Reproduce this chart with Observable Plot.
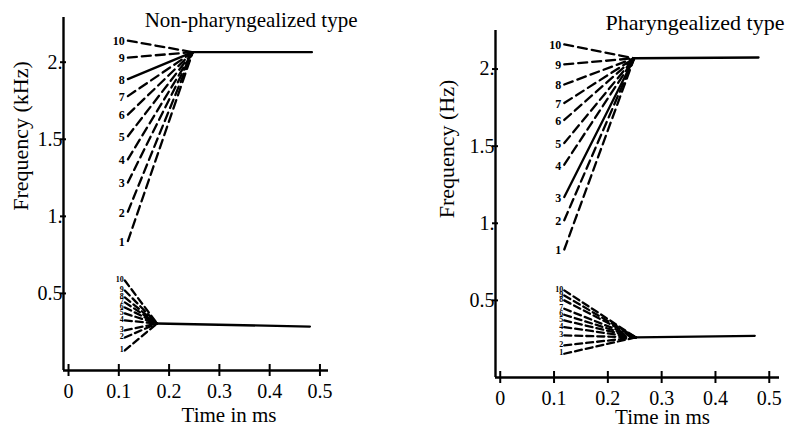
<!DOCTYPE html>
<html>
<head>
<meta charset="utf-8">
<script src="https://cdn.jsdelivr.net/npm/d3@7"></script>
<script src="https://cdn.jsdelivr.net/npm/@observablehq/plot@0.6"></script>
<style>
  body { margin: 0; background: white; }
  #wrap { display: flex; width: 788px; height: 430px; }
</style>
</head>
<body>
<div id="wrap"></div>
<script>
// ---------- data ----------
const seriesLabels = ["1","2","3","4","5","6","7","8","9","10"];
const xTicks = [0, 0.1, 0.2, 0.3, 0.4, 0.5];
const xTickLabels = ["0", "0.1", "0.2", "0.3", "0.4", "0.5"];
const yTicks = [0.5, 1, 1.5, 2];
const yTickLabels = ["0.5", "1.", "1.5", "2."];

// Non-pharyngealized type (left panel)
const npTitle = "Non-pharyngealized type";
const npYLabel = "Frequency (kHz)";
const npF2Start = [0.84, 1.03, 1.22, 1.37, 1.52, 1.66, 1.78, 1.89, 2.03, 2.14];
const npF2T = [0.118, 0.247, 0.484];   // onset, target reached, end
const npF2Target = [2.065, 2.065];
const npF2Solid = ["8"];
const npF1Start = [0.13, 0.214, 0.26, 0.325, 0.37, 0.409, 0.442, 0.474, 0.519, 0.584];
const npF1T = [0.112, 0.176, 0.48];
const npF1Target = [0.305, 0.285];
const npF1Solid = [];

// Pharyngealized type (right panel)
const pTitle = "Pharyngealized type";
const pYLabel = "Frequency (Hz)";
const pF2Start = [0.83, 1.02, 1.17, 1.38, 1.52, 1.67, 1.78, 1.90, 2.03, 2.16];
const pF2T = [0.119, 0.249, 0.48];
const pF2Target = [2.07, 2.075];
const pF2Solid = ["3"];
const pF1Start = [0.154, 0.208, 0.273, 0.327, 0.37, 0.407, 0.446, 0.50, 0.532, 0.565];
const pF1T = [0.119, 0.252, 0.473];
const pF1Target = [0.26, 0.27];
const pF1Solid = [];

// ---------- helpers ----------
function formantRows(name, starts, T, target) {
  const rows = [];
  starts.forEach((f, i) => {
    rows.push({id: name + seriesLabels[i], label: seriesLabels[i], t: T[0], f});
    rows.push({id: name + seriesLabels[i], label: seriesLabels[i], t: T[1], f: target[0]});
  });
  return rows;
}
function steadyRows(name, T, target) {
  return [{id: name, t: T[1], f: target[0]}, {id: name, t: T[2], f: target[1]}];
}
function startRows(starts, T) {
  return starts.map((f, i) => ({label: seriesLabels[i], t: T[0], f}));
}

function panel(cfg) {
  const F2 = formantRows("F2-", cfg.f2Start, cfg.f2T, cfg.f2Target);
  const F1 = formantRows("F1-", cfg.f1Start, cfg.f1T, cfg.f1Target);
  const dashedF2 = F2.filter(d => !cfg.f2Solid.includes(d.label));
  const solidF2 = F2.filter(d => cfg.f2Solid.includes(d.label));
  const dashedF1 = F1.filter(d => !cfg.f1Solid.includes(d.label));
  const solidF1 = F1.filter(d => cfg.f1Solid.includes(d.label));
  const steady = [...steadyRows("F2", cfg.f2T, cfg.f2Target), ...steadyRows("F1", cfg.f1T, cfg.f1Target)];
  const font = "Liberation Serif, Times New Roman, serif";
  return Plot.plot({
    width: 394, height: 430,
    marginLeft: cfg.ml, marginRight: cfg.mr, marginTop: cfg.mt, marginBottom: cfg.mb,
    x: {domain: cfg.xDomain, axis: null},
    y: {domain: cfg.yDomain, axis: null},
    style: {fontFamily: font, background: "white", color: "black", overflow: "visible"},
    marks: [
      Plot.ruleY([0], {stroke: "black", strokeWidth: 2.4}),
      Plot.ruleX([cfg.xDomain[0]], {stroke: "black", strokeWidth: 2.4}),
      Plot.axisX({ticks: xTicks, tickSize: 12, dy: -6, tickFormat: () => "", label: null, strokeWidth: 2}),
      Plot.axisX({ticks: xTicks, tickSize: 0, tickPadding: 13, fontSize: 20, label: null,
        tickFormat: d => xTickLabels[xTicks.indexOf(d)]}),
      Plot.axisY({ticks: yTicks, tickSize: 6, dx: 3, tickFormat: () => "", label: null, strokeWidth: 2}),
      Plot.axisY({ticks: yTicks, tickSize: 0, tickPadding: 1, fontSize: 20, label: null,
        tickFormat: d => yTickLabels[yTicks.indexOf(d)]}),
      Plot.line(dashedF2, {x: "t", y: "f", z: "id", stroke: "black", strokeWidth: 2.3, strokeDasharray: "9,5"}),
      Plot.line(solidF2, {x: "t", y: "f", z: "id", stroke: "black", strokeWidth: 2.3}),
      Plot.line(dashedF1, {x: "t", y: "f", z: "id", stroke: "black", strokeWidth: 2.3, strokeDasharray: "7,4"}),
      Plot.line(solidF1, {x: "t", y: "f", z: "id", stroke: "black", strokeWidth: 2.3}),
      Plot.line(steady, {x: "t", y: "f", z: "id", stroke: "black", strokeWidth: 2.3}),
      Plot.text(startRows(cfg.f2Start, cfg.f2T), {x: "t", y: "f", text: "label", textAnchor: "end",
        dx: -3, dy: 1, fontSize: 12, fontWeight: "bold"}),
      Plot.text(startRows(cfg.f1Start, cfg.f1T), {x: "t", y: "f", text: "label", textAnchor: "end",
        dx: -1, dy: -1, fontSize: cfg.f1LabelSize, fontWeight: "bold"}),
      Plot.text([cfg.title], {frameAnchor: "top-right", textAnchor: "end", lineAnchor: "middle",
        dx: cfg.titleDx, dy: cfg.titleDy, fontSize: cfg.titleSize}),
      Plot.text([cfg.yLabel], {frameAnchor: "left", rotate: -90, textAnchor: "middle", lineAnchor: "middle",
        dx: cfg.yLabDx, dy: cfg.yLabDy, fontSize: 22}),
      Plot.text(["Time in ms"], {frameAnchor: "bottom", textAnchor: "middle", lineAnchor: "middle",
        dx: cfg.xLabDx, dy: cfg.xLabDy, fontSize: 21})
    ]
  });
}

const wrap = document.getElementById("wrap");
wrap.append(panel({
  title: npTitle, yLabel: npYLabel,
  f2Start: npF2Start, f2T: npF2T, f2Target: npF2Target, f2Solid: npF2Solid,
  f1Start: npF1Start, f1T: npF1T, f1Target: npF1Target, f1Solid: npF1Solid,
  ml: 63, mr: 66, mt: 17, mb: 60,
  xDomain: [-0.01, 0.517], yDomain: [0, 2.29],
  f1LabelSize: 8, titleSize: 21, titleDx: 29, titleDy: 3,
  yLabDx: -43, yLabDy: -58, xLabDx: 33, xLabDy: 45
}));
wrap.append(panel({
  title: pTitle, yLabel: pYLabel,
  f2Start: pF2Start, f2T: pF2T, f2Target: pF2Target, f2Solid: pF2Solid,
  f1Start: pF1Start, f1T: pF1T, f1Target: pF1Target, f1Solid: pF1Solid,
  ml: 101, mr: 9, mt: 30, mb: 53,
  xDomain: [-0.0088, 0.519], yDomain: [0, 2.25],
  f1LabelSize: 8, titleSize: 22, titleDx: 5, titleDy: -8,
  yLabDx: -49, yLabDy: -55, xLabDx: 25, xLabDy: 40
}));
</script>
</body>
</html>
